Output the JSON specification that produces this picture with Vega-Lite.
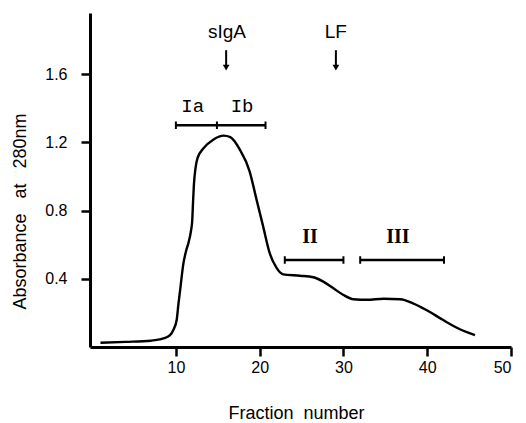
{
  "$schema": "https://vega.github.io/schema/vega-lite/v6.json",
  "autosize": {"type": "none"},
  "padding": {"left": 90, "top": 13, "right": 15, "bottom": 76},
  "width": 421,
  "height": 334,
  "background": "white",
  "config": {
    "view": {"stroke": null},
    "font": "Liberation Sans"
  },
  "datasets": {
    "curve": [
      {"f": 1.0, "a": 0.025}, {"f": 4, "a": 0.03}, {"f": 7, "a": 0.037}, {"f": 8.5, "a": 0.05},
      {"f": 9.3, "a": 0.07}, {"f": 9.7, "a": 0.1}, {"f": 10.1, "a": 0.16}, {"f": 10.3, "a": 0.25},
      {"f": 10.5, "a": 0.33}, {"f": 10.9, "a": 0.49}, {"f": 11.2, "a": 0.56}, {"f": 11.5, "a": 0.61},
      {"f": 11.8, "a": 0.68}, {"f": 11.95, "a": 0.74}, {"f": 12.05, "a": 0.85}, {"f": 12.15, "a": 0.95},
      {"f": 12.35, "a": 1.05}, {"f": 12.6, "a": 1.11}, {"f": 13.3, "a": 1.165}, {"f": 14.5, "a": 1.217},
      {"f": 15.7, "a": 1.239}, {"f": 16.5, "a": 1.23}, {"f": 17.6, "a": 1.16}, {"f": 18.8, "a": 1.03},
      {"f": 19.6, "a": 0.87}, {"f": 20.4, "a": 0.71}, {"f": 21.2, "a": 0.55}, {"f": 22.0, "a": 0.465},
      {"f": 22.8, "a": 0.426}, {"f": 24.8, "a": 0.418}, {"f": 26.4, "a": 0.409}, {"f": 27.6, "a": 0.383},
      {"f": 28.8, "a": 0.344}, {"f": 30.0, "a": 0.305}, {"f": 31.2, "a": 0.28}, {"f": 32.8, "a": 0.277},
      {"f": 34.8, "a": 0.283}, {"f": 36.8, "a": 0.28}, {"f": 38.3, "a": 0.256}, {"f": 39.9, "a": 0.217},
      {"f": 41.9, "a": 0.158}, {"f": 43.9, "a": 0.104}, {"f": 45.7, "a": 0.07}
    ],
    "bars": [
      {"x1": 10.0, "x2": 20.7, "y": 1.3},
      {"x1": 23.0, "x2": 30.0, "y": 0.51},
      {"x1": 32.0, "x2": 42.0, "y": 0.51}
    ],
    "caps": [
      {"x": 10.0, "lo": 1.278, "hi": 1.322},
      {"x": 14.9, "lo": 1.278, "hi": 1.322},
      {"x": 20.7, "lo": 1.278, "hi": 1.322},
      {"x": 23.0, "lo": 0.488, "hi": 0.532},
      {"x": 30.0, "lo": 0.488, "hi": 0.532},
      {"x": 32.0, "lo": 0.488, "hi": 0.532},
      {"x": 42.0, "lo": 0.488, "hi": 0.532}
    ],
    "arrows": [
      {"x": 16.0, "top": 1.74, "bot": 1.65, "head": 1.638},
      {"x": 29.1, "top": 1.74, "bot": 1.65, "head": 1.638}
    ],
    "labels": [
      {"x": 16.1, "y": 1.81, "t": "sIgA"},
      {"x": 29.1, "y": 1.81, "t": "LF"}
    ],
    "mono": [
      {"x": 12.0, "y": 1.379, "t": "Ia"},
      {"x": 17.9, "y": 1.379, "t": "Ib"}
    ],
    "roman": [
      {"x": 26.0, "y": 0.61, "t": "II"},
      {"x": 36.5, "y": 0.61, "t": "III"}
    ]
  },
  "layer": [
    {
      "data": {"name": "curve"},
      "mark": {"type": "line", "interpolate": "monotone", "color": "black", "strokeWidth": 2.4},
      "encoding": {
        "x": {
          "field": "f", "type": "quantitative",
          "scale": {"domain": [-0.25, 50], "nice": false, "zero": false},
          "axis": {
            "title": "Fraction\u00a0\u00a0number",
            "values": [10, 20, 30, 40, 50],
            "grid": false,
            "domainColor": "black", "domainWidth": 3,
            "tickColor": "black", "tickWidth": 2.5, "tickSize": 9,
            "labelFont": "Liberation Sans", "labelFontSize": 16, "labelColor": "black",
            "labelPadding": 3,
            "titleFont": "Liberation Sans", "titleFontSize": 18, "titleFontWeight": "normal", "titleColor": "black",
            "titleX": 206, "titleY": 71, "titleBaseline": "alphabetic", "titleAlign": "center"
          }
        },
        "y": {
          "field": "a", "type": "quantitative",
          "scale": {"domain": [0, 1.958], "nice": false},
          "axis": {
            "title": "Absorbance\u00a0\u00a0\u00a0at\u00a0\u00a0\u00a0280nm",
            "values": [0.4, 0.8, 1.2, 1.6],
            "format": ".1f",
            "grid": false,
            "domainColor": "black", "domainWidth": 3,
            "tickColor": "black", "tickWidth": 2.5, "tickSize": 9,
            "labelFont": "Liberation Sans", "labelFontSize": 16, "labelColor": "black",
            "labelPadding": 14,
            "titleFont": "Liberation Sans", "titleFontSize": 18, "titleFontWeight": "normal", "titleColor": "black",
            "titleAngle": 270, "titleX": -65, "titleY": 198, "titleBaseline": "alphabetic", "titleAlign": "center"
          }
        }
      }
    },
    {
      "data": {"name": "bars"},
      "mark": {"type": "rule", "color": "black", "strokeWidth": 2.5},
      "encoding": {
        "x": {"field": "x1", "type": "quantitative"},
        "x2": {"field": "x2"},
        "y": {"field": "y", "type": "quantitative"}
      }
    },
    {
      "data": {"name": "caps"},
      "mark": {"type": "rule", "color": "black", "strokeWidth": 2},
      "encoding": {
        "x": {"field": "x", "type": "quantitative"},
        "y": {"field": "lo", "type": "quantitative"},
        "y2": {"field": "hi"}
      }
    },
    {
      "data": {"name": "arrows"},
      "mark": {"type": "rule", "color": "black", "strokeWidth": 2},
      "encoding": {
        "x": {"field": "x", "type": "quantitative"},
        "y": {"field": "top", "type": "quantitative"},
        "y2": {"field": "bot"}
      }
    },
    {
      "data": {"name": "arrows"},
      "mark": {"type": "point", "shape": "triangle-down", "filled": true, "color": "black", "size": 45, "opacity": 1},
      "encoding": {
        "x": {"field": "x", "type": "quantitative"},
        "y": {"field": "head", "type": "quantitative"}
      }
    },
    {
      "data": {"name": "labels"},
      "mark": {"type": "text", "font": "Liberation Sans", "fontSize": 19, "color": "black", "baseline": "alphabetic", "align": "center"},
      "encoding": {
        "x": {"field": "x", "type": "quantitative"},
        "y": {"field": "y", "type": "quantitative"},
        "text": {"field": "t"}
      }
    },
    {
      "data": {"name": "mono"},
      "mark": {"type": "text", "font": "Liberation Mono", "fontSize": 19, "color": "black", "baseline": "alphabetic", "align": "center"},
      "encoding": {
        "x": {"field": "x", "type": "quantitative"},
        "y": {"field": "y", "type": "quantitative"},
        "text": {"field": "t"}
      }
    },
    {
      "data": {"name": "roman"},
      "mark": {"type": "text", "font": "Liberation Serif", "fontSize": 20, "fontWeight": "bold", "color": "black", "baseline": "alphabetic", "align": "center"},
      "encoding": {
        "x": {"field": "x", "type": "quantitative"},
        "y": {"field": "y", "type": "quantitative"},
        "text": {"field": "t"}
      }
    }
  ]
}
